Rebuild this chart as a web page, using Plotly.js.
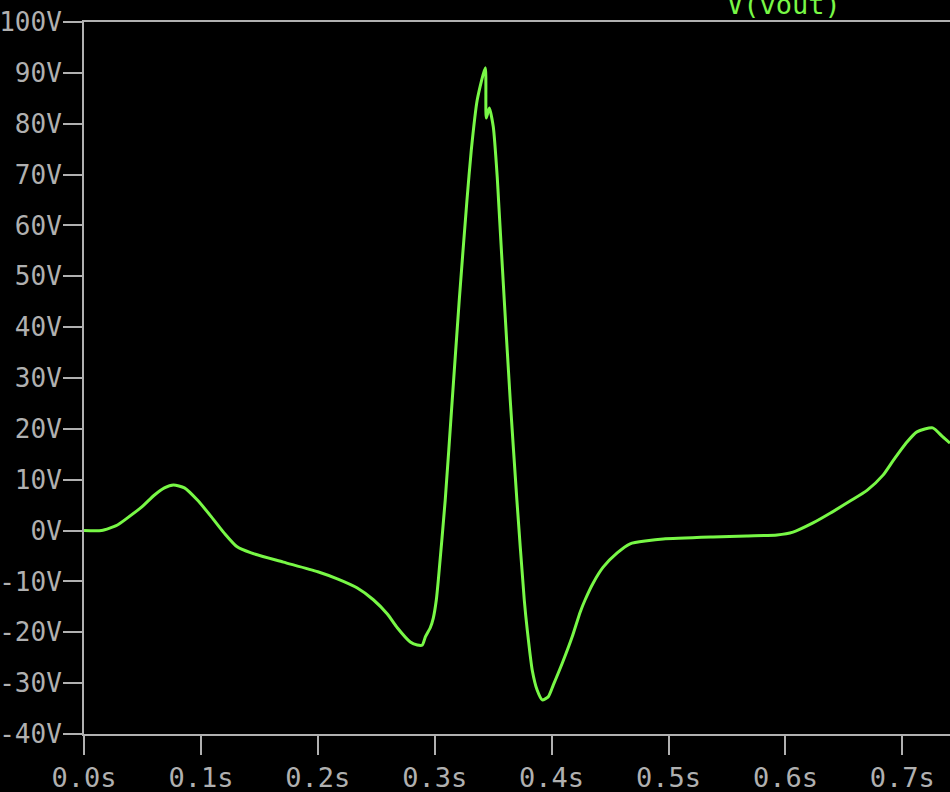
<!DOCTYPE html>
<html>
<head>
<meta charset="utf-8">
<script src="https://cdn.plot.ly/plotly-3.0.1.min.js"></script>
<style>
  html, body { margin: 0; padding: 0; background: #000; }
  #chart { width: 950px; height: 792px; }
</style>
</head>
<body>
<div id="chart"></div>
<script>
// Time (s) and V(vout) (V)
const timeS = [
  0, 0.015, 0.0286, 0.0372, 0.0492, 0.0603, 0.0688, 0.0765, 0.0859, 0.097,
  0.109, 0.120, 0.131, 0.143, 0.1706, 0.200, 0.2167, 0.2338, 0.2475, 0.2595,
  0.268, 0.2791, 0.2851, 0.2894, 0.292, 0.2962, 0.2988, 0.3014, 0.3031, 0.309,
  0.315, 0.3210, 0.3276, 0.3313, 0.3364, 0.3433, 0.3441, 0.3467, 0.3501, 0.3535,
  0.3546, 0.3595, 0.3646, 0.3703, 0.3766, 0.3792, 0.3834, 0.3877, 0.392, 0.3971,
  0.4014, 0.4091, 0.4176, 0.4245, 0.4287, 0.4356, 0.4441, 0.4561, 0.4672, 0.4817,
  0.4954, 0.538, 0.567, 0.5929, 0.6065, 0.6236, 0.6382, 0.6553, 0.6698, 0.6835,
  0.692, 0.704, 0.7125, 0.726, 0.7347, 0.7408
];
const vout = [
  0, 0, 1.1, 2.5, 4.6, 7.0, 8.4, 8.97, 8.4, 6.0,
  2.7, -0.5, -3.2, -4.4, -6.2, -8.1, -9.5, -11.3, -13.6, -16.4,
  -19.1, -21.9, -22.5, -22.5, -20.9, -19.1, -17.2, -13.6, -9.7, 6.0,
  25.7, 45.3, 65.0, 74.8, 84.7, 91.0, 81.1, 83.1, 79.4, 69.5,
  65.0, 45.3, 25.7, 6.0, -13.6, -19.6, -27.4, -31.4, -33.3, -32.7,
  -30.4, -26.1, -20.9, -16.0, -13.6, -10.3, -7.2, -4.4, -2.6, -2.0,
  -1.65, -1.26, -1.06, -0.87, -0.3, 1.5, 3.4, 5.8, 7.9, 10.9,
  13.7, 17.4, 19.4, 20.2, 18.4, 17.2
];
const traceName = 'V(vout)';
const xTickVals = [0, 0.1, 0.2, 0.3, 0.4, 0.5, 0.6, 0.7];
const xTickText = ['0.0s', '0.1s', '0.2s', '0.3s', '0.4s', '0.5s', '0.6s', '0.7s'];
const yTickVals = [-40, -30, -20, -10, 0, 10, 20, 30, 40, 50, 60, 70, 80, 90, 100];
const yTickText = ['-40V', '-30V', '-20V', '-10V', '0V', '10V', '20V', '30V', '40V', '50V', '60V', '70V', '80V', '90V', '100V'];

const green = 'rgb(120,248,70)';
const gray = '#b0b0b0';
const mono = 'DejaVu Sans Mono, monospace';

const data = [{
  x: timeS,
  y: vout,
  type: 'scatter',
  mode: 'lines',
  name: traceName,
  line: { color: green, width: 3, shape: 'spline', smoothing: 0.6 },
  hoverinfo: 'skip'
}];

const axisCommon = {
  showgrid: false,
  zeroline: false,
  showline: true,
  linecolor: gray,
  linewidth: 2,
  ticks: 'outside',
  ticklen: 19,
  tickwidth: 2,
  tickcolor: gray,
  fixedrange: true
};

const layout = {
  width: 950,
  height: 792,
  paper_bgcolor: '#000',
  plot_bgcolor: '#000',
  margin: { l: 84, r: 0, t: 22, b: 58, pad: 0 },
  showlegend: false,
  xaxis: Object.assign({}, axisCommon, {
    range: [0, 0.7408],
    tickmode: 'array',
    tickvals: xTickVals,
    ticktext: xTickText,
    tickfont: { family: mono, size: 27, color: gray },
    mirror: true
  }),
  yaxis: Object.assign({}, axisCommon, {
    range: [-40, 100],
    tickmode: 'array',
    tickvals: yTickVals,
    ticktext: yTickText,
    tickfont: { family: mono, size: 26, color: gray },
    ticklabelstandoff: -4
  }),
  annotations: [{
    text: traceName,
    xref: 'paper', yref: 'paper',
    x: 0.808, y: 1,
    xanchor: 'center', yanchor: 'bottom',
    yshift: 0,
    showarrow: false,
    font: { family: mono, size: 27, color: green }
  }]
};

Plotly.newPlot('chart', data, layout, { staticPlot: true, displayModeBar: false });
</script>
</body>
</html>
